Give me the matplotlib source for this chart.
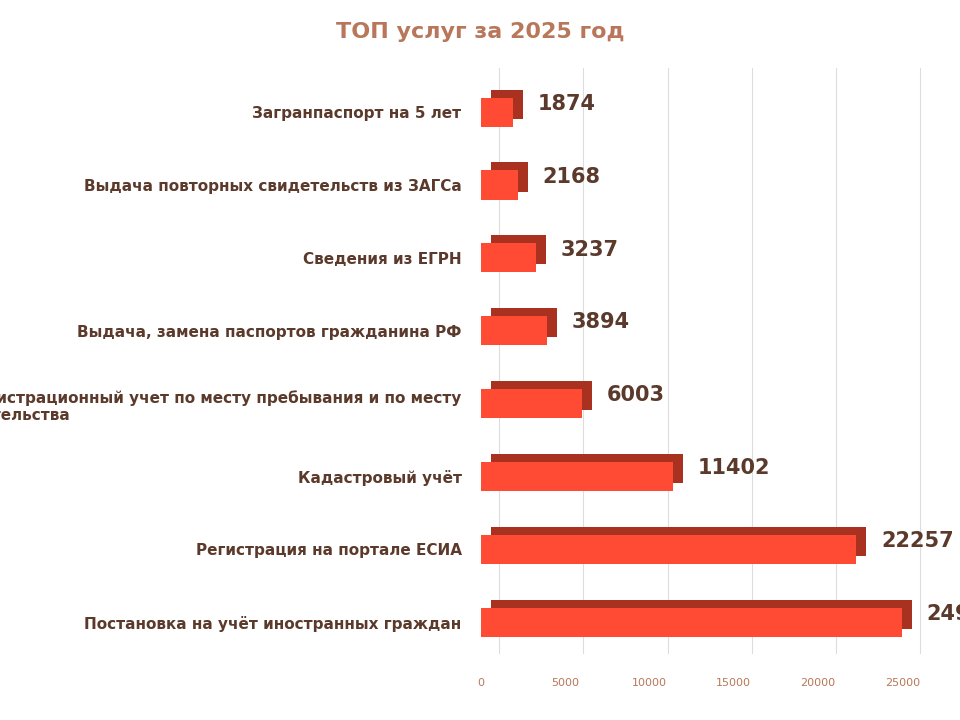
import matplotlib.pyplot as plt
import matplotlib.transforms as mtransforms

# ==================
# Data
SERVICES = [
    "Постановка на учёт иностранных граждан",
    "Регистрация на портале ЕСИА",
    "Кадастровый учёт",
    "Регистрационный учет по месту пребывания и по месту\nжительства",
    "Выдача, замена паспортов гражданина РФ",
    "Сведения из ЕГРН",
    "Выдача повторных свидетельств из ЗАГСа",
    "Загранпаспорт на 5 лет",
]
COUNTS = [24964, 22257, 11402, 6003, 3894, 3237, 2168, 1874]
XTICKS = [0, 5000, 10000, 15000, 20000, 25000]
# ===================

TEXT_COLOR = "#5b3a2c"
TICK_COLOR = "#b8775a"


def plot_services():
    fig = plt.figure(figsize=(9.6, 7.2), dpi=100)
    ax = fig.add_axes([0.501, 0.085, 0.46, 0.82])

    pos = list(range(len(SERVICES)))
    # shifted copy gives the depth of the 3D bars
    depth = mtransforms.offset_copy(ax.transData, fig=fig, x=10, y=8, units="dots")
    ax.barh(pos, COUNTS, height=0.4, color="#a8321f", transform=depth, zorder=2)
    ax.barh(pos, COUNTS, height=0.4, color="#ff4b33", zorder=3)

    grid_tr = mtransforms.offset_copy(ax.get_xaxis_transform(), fig=fig, x=18, y=0, units="dots")
    for x in XTICKS:
        ax.plot([x, x], [0.01, 1], color="#dddddd", lw=0.8, transform=grid_tr, zorder=0)

    for p, v in zip(pos, COUNTS):
        ax.annotate(f"{v}", (v, p), textcoords="offset points", xytext=(18, 6),
                    ha="left", va="center", fontsize=15, fontweight="bold",
                    color=TEXT_COLOR, zorder=4)

    ax.set_yticks(pos)
    ax.set_yticklabels(SERVICES, fontsize=11, fontweight="bold", color=TEXT_COLOR,
                       multialignment="left")
    ax.tick_params(axis="y", length=0, pad=14)
    ax.set_xticks(XTICKS)
    ax.tick_params(axis="x", length=0, labelsize=8, labelcolor=TICK_COLOR, pad=14)
    ax.set_xlim(0, 26200)
    ax.set_ylim(-0.5, len(SERVICES) - 0.4)
    for s in ax.spines.values():
        s.set_visible(False)

    fig.suptitle("ТОП услуг за 2025 год", y=0.97, fontsize=16, fontweight="bold",
                 color=TICK_COLOR)
    plt.savefig("out.png", dpi=100)


if __name__ == "__main__":
    plot_services()
